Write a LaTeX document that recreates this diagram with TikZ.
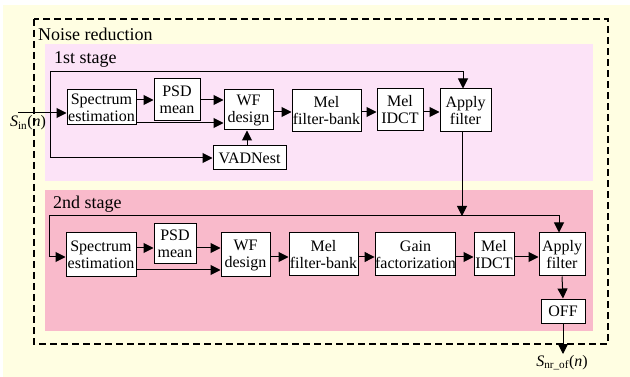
\documentclass[tikz,border=0pt]{standalone}
\usepackage{fontspec}
\setmainfont{Liberation Serif}
\usetikzlibrary{arrows.meta}
\definecolor{bgyellow}{HTML}{FFFEE2}
\definecolor{pinkA}{HTML}{FCE3F7}
\definecolor{pinkB}{HTML}{F9BACB}
\tikzset{
  blk/.style={draw=black, line width=1pt, fill=white, align=center, inner sep=0pt,
    font=\fontsize{16}{17}\selectfont},
  arr/.style={line width=1pt, -{Triangle[length=10pt,width=10pt]}},
  stagelbl/.style={font=\fontsize{18}{20}\selectfont, anchor=base west, inner sep=0pt},
  sig/.style={font=\fontsize{16}{17}\selectfont, anchor=base, inner sep=0pt}
}
\begin{document}
\begin{tikzpicture}[x=1pt,y=-1pt]
\useasboundingbox (0,0) rectangle (630,377);
\fill[white] (0,0) rectangle (630,377);
\fill[bgyellow] (3,5) rectangle (630,377);
\fill[pinkA] (45,44) rectangle (593,181);
\fill[pinkB] (45,190) rectangle (593,331);
\draw[line width=1.5pt, dash pattern=on 7pt off 4pt] (34,19) rectangle (608,344);

\node[stagelbl] (nr) at (38,41) {Noise reduction};
\node[stagelbl] (s1) at (54,64) {1st stage};
\node[stagelbl] (s2) at (53,209) {2nd stage};

% stage 1
\node[blk, minimum width=69pt, minimum height=35pt] (sp1) at (101.5,107.5) {Spectrum\\estimation};
\node[blk, minimum width=46pt, minimum height=42pt] (psd1) at (177,100) {PSD\\mean};
\node[blk, minimum width=49pt, minimum height=40pt] (wf1) at (248.5,110) {WF\\design};
\node[blk, minimum width=73pt, minimum height=24pt] (vad1) at (249.5,158) {VADNest};
\node[blk, minimum width=69pt, minimum height=42pt] (mel1) at (326.5,111) {Mel\\filter-bank};
\node[blk, minimum width=46pt, minimum height=42pt] (idct1) at (400,110) {Mel\\IDCT};
\node[blk, minimum width=51pt, minimum height=43pt] (app1) at (465.5,110.5) {Apply\\filter};

\node[sig] (sin) at (28,127) {\textit{S}\textsubscript{in}(\textit{n})};
\coordinate (inS) at (18,113);
\coordinate (b1) at (50,113);
\coordinate (t1) at (463,72);

\draw[arr] (inS) -- (sp1.west |- inS);
\draw[arr] (b1) |- (t1) -- (t1 |- app1.north);
\draw[arr] (b1) |- (vad1.west);
\draw[arr] (sp1.east |- 0,100) -- (psd1.west |- 0,100);
\draw[arr] (psd1.east |- 0,100) -- (wf1.west |- 0,100);
\draw[arr] (sp1.east |- 0,123) -- (wf1.west |- 0,123);
\draw[arr] (vad1.north -| 247,0) -- (wf1.south -| 247,0);
\draw[arr] (wf1.east |- 0,112) -- (mel1.west |- 0,112);
\draw[arr] (mel1.east |- 0,112) -- (idct1.west |- 0,112);
\draw[arr] (idct1.east |- 0,112) -- (app1.west |- 0,112);

% stage 2
\node[blk, minimum width=70pt, minimum height=44pt] (sp2) at (101,255) {Spectrum\\estimation};
\node[blk, minimum width=42pt, minimum height=40pt] (psd2) at (175,244) {PSD\\mean};
\node[blk, minimum width=49pt, minimum height=44pt] (wf2) at (245.5,255) {WF\\design};
\node[blk, minimum width=69pt, minimum height=43pt] (mel2) at (323.5,254.5) {Mel\\filter-bank};
\node[blk, minimum width=79pt, minimum height=43pt] (gain2) at (415.5,254.5) {Gain\\factorization};
\node[blk, minimum width=40pt, minimum height=43pt] (idct2) at (494,254.5) {Mel\\IDCT};
\node[blk, minimum width=46pt, minimum height=43pt] (app2) at (562,254.5) {Apply\\filter};
\node[blk, minimum width=44pt, minimum height=24pt] (off2) at (563,311) {OFF};

\coordinate (j2L) at (49,216);
\coordinate (j2R) at (559,216);
\coordinate (j2M) at (462,216);
\coordinate (outS) at (563,354);

\draw[arr] (app1.south -| j2M) -- (j2M);
\draw[arr] (j2L) -- (j2R) -- (j2R |- app2.north);
\draw[arr] (j2L) |- (sp2.west |- 0,257);
\draw[arr] (sp2.east |- 0,248) -- (psd2.west |- 0,248);
\draw[arr] (psd2.east |- 0,248) -- (wf2.west |- 0,248);
\draw[arr] (sp2.east |- 0,270) -- (wf2.west |- 0,270);
\draw[arr] (wf2.east |- 0,257) -- (mel2.west |- 0,257);
\draw[arr] (mel2.east |- 0,257) -- (gain2.west |- 0,257);
\draw[arr] (gain2.east |- 0,257) -- (idct2.west |- 0,257);
\draw[arr] (idct2.east |- 0,257) -- (app2.west |- 0,257);
\draw[arr] (app2.south) -- (off2.north);
\draw[arr] (off2.south) -- (outS);
\node[sig] (sout) at (562,366) {\textit{S}\textsubscript{nr\_of}(\textit{n})};
\end{tikzpicture}
\end{document}
